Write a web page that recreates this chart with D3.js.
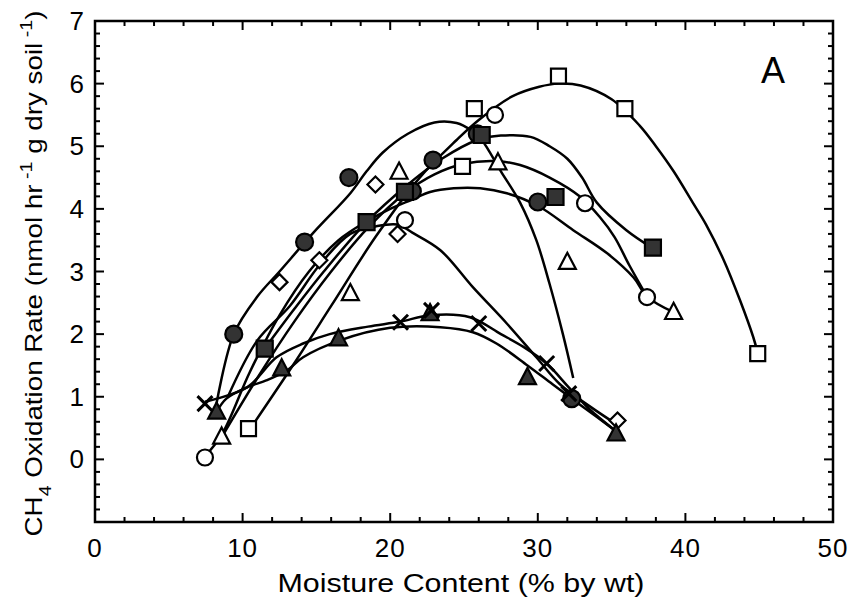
<!DOCTYPE html>
<html>
<head>
<meta charset="utf-8">
<script src="https://cdn.jsdelivr.net/npm/d3@7.9.0/dist/d3.min.js"></script>
<style>
  body { margin: 0; background: #fff; }
  svg { display: block; font-family: "Liberation Sans", Arial, Helvetica, sans-serif; }
</style>
</head>
<body>
<svg id="chart" width="850" height="602"></svg>
<script>
// measured points, one array per marker type
const filledCircle = [[9.4,2.0],[14.2,3.47],[17.2,4.5],[21.5,4.28],[22.9,4.78],[25.9,5.2],[30.0,4.11],[32.3,0.97]];
const openDiamond = [[12.5,2.83],[15.2,3.18],[19.0,4.39],[20.5,3.6],[35.4,0.62]];
const openTriangle = [[8.58,0.36],[17.3,2.65],[20.6,4.59],[27.3,4.74],[32.0,3.15],[39.2,2.35]];
const filledSquare = [[11.5,1.77],[18.4,3.79],[21.0,4.27],[26.2,5.18],[31.2,4.19],[37.8,3.38]];
const openSquare = [[10.4,0.49],[24.9,4.68],[25.7,5.6],[31.4,6.12],[35.9,5.6],[44.9,1.69]];
const openCircle = [[7.45,0.03],[21.0,3.82],[27.1,5.5],[33.2,4.09],[37.4,2.59]];
const crossX = [[7.45,0.89],[20.7,2.19],[22.8,2.38],[26.0,2.17],[30.6,1.53],[32.1,1.05]];
const filledTriangle = [[8.24,0.76],[12.65,1.45],[16.5,1.93],[22.7,2.33],[29.3,1.31],[35.3,0.41]];

// fitted curves
const fitTop = [[8.2,0.85],[9.4,2.0],[11,2.6],[12.5,3.0],[14.8,3.62],[17.3,4.25],[18.4,4.6],[19.5,4.9],[21.2,5.2],[23,5.38],[24.5,5.37],[25.5,5.25],[26.2,5.1],[27.5,4.6],[28.8,4.1],[29.9,3.5],[30.8,2.8],[31.7,2.0],[32.4,1.3]];
const fitOpenSquare = [[10.4,0.45],[13.4,1.5],[16,2.45],[19,3.55],[22,4.5],[24.5,5.1],[26,5.42],[28.3,5.8],[30.1,5.95],[31.4,6.0],[32.9,5.97],[35,5.75],[36.9,5.33],[38,5.0],[39.2,4.6],[40.5,4.1],[41.4,3.75],[42.6,3.18],[43.7,2.54],[44.6,1.95],[44.9,1.7]];
const fitPeakHigh = [[11.5,1.77],[13.5,2.4],[15.5,3.0],[18.4,3.79],[21,4.35],[23.5,4.8],[25.9,5.1],[27.5,5.17],[29.5,5.15],[30.8,5.0],[32,4.8],[33,4.5],[34,4.1],[36,3.66],[37.8,3.37]];
const fitPeakMid = [[8.6,0.36],[11,1.3],[13.5,2.2],[16,3.0],[18.5,3.7],[21,4.25],[23,4.55],[25,4.72],[27.3,4.76],[28.8,4.7],[30.8,4.5],[32.9,4.19],[34.2,3.87],[35.2,3.55],[36.2,3.1],[37.4,2.6]];
const fitPeakLow = [[7.45,0.05],[8.6,0.4],[10.5,1.4],[12.5,2.3],[14.5,3.0],[16.5,3.5],[18.4,3.8],[20,4.0],[21.5,4.15],[22.7,4.27],[24.3,4.33],[26.1,4.33],[27.9,4.25],[30,4.05],[32.4,3.66],[34.7,3.29],[36.5,2.9],[37.4,2.6],[39.2,2.35]];
const fitDiamond = [[9.0,1.0],[11,1.9],[13.2,2.45],[15.2,3.1],[17.3,3.6],[19,3.72],[20.5,3.75],[21.5,3.62],[23.4,3.34],[25.6,2.75],[27.9,2.17],[29.9,1.63],[31.5,1.2],[33.5,0.85],[35.4,0.55]];
const fitCross = [[7.45,0.92],[10.3,1.15],[12.3,1.63],[14.1,1.85],[15.9,2.0],[18.5,2.12],[20.7,2.2],[22.7,2.3],[25.4,2.27],[27.5,2.0],[29,1.8],[30.6,1.53],[32.1,1.15],[33.5,0.8],[35.3,0.45]];
const fitFilledTriangle = [[8.24,0.76],[8.9,0.97],[10.3,1.15],[11.6,1.26],[13,1.42],[14.1,1.63],[16.6,1.9],[20,2.1],[23.4,2.11],[25.6,2.03],[27.2,1.85],[29.3,1.5],[31,1.2],[33,0.85],[35.3,0.45]];

const xMajor = [0, 10, 20, 30, 40, 50];
const yMajor = [0, 1, 2, 3, 4, 5, 6, 7];

const svg = d3.select('#chart');
const margin = { top: 21, right: 17, bottom: 80, left: 95 };
const W = 850 - margin.left - margin.right;
const H = 602 - margin.top - margin.bottom;

const x = d3.scaleLinear().domain([0, 50]).range([0, W]);
const y = d3.scaleLinear().domain([-1, 7]).range([H, 0]);

const g = svg.append('g').attr('transform', `translate(${margin.left},${margin.top})`);

// inward ticks on all four sides
const xMinor = d3.range(0, 50.01, 2);
const yMinor = d3.range(-1, 7.001, 0.2).map(v => Math.round(v * 10) / 10);

function tickAxes() {
  const t = g.append('g').attr('stroke', '#000');
  xMinor.forEach(v => {
    const major = v % 10 === 0;
    const len = major ? 9 : 5;
    t.append('line').attr('x1', x(v)).attr('x2', x(v)).attr('y1', H).attr('y2', H - len).attr('stroke-width', 2);
    t.append('line').attr('x1', x(v)).attr('x2', x(v)).attr('y1', 0).attr('y2', len).attr('stroke-width', 2);
  });
  yMinor.forEach(v => {
    const major = Math.abs(v - Math.round(v)) < 1e-6;
    const len = major ? 9 : 5;
    t.append('line').attr('y1', y(v)).attr('y2', y(v)).attr('x1', 0).attr('x2', len).attr('stroke-width', 2);
    t.append('line').attr('y1', y(v)).attr('y2', y(v)).attr('x1', W).attr('x2', W - len).attr('stroke-width', 2);
  });
  g.append('rect').attr('width', W).attr('height', H)
    .attr('fill', 'none').attr('stroke', '#000').attr('stroke-width', 2.5);
}
tickAxes();

g.selectAll('.xl').data(xMajor).join('text')
  .attr('x', d => x(d)).attr('y', H + 35)
  .attr('text-anchor', 'middle').attr('font-size', 26)
  .attr('letter-spacing', 1).text(d => d);

g.selectAll('.yl').data(yMajor).join('text')
  .attr('x', -11).attr('y', d => y(d) + 9)
  .attr('text-anchor', 'end').attr('font-size', 26).text(d => d);

svg.append('text').attr('x', margin.left + W / 2 - 3).attr('y', 592)
  .attr('text-anchor', 'middle').attr('font-size', 25)
  .attr('textLength', 367).attr('lengthAdjust', 'spacingAndGlyphs')
  .text('Moisture  Content (% by wt)');

const yt = svg.append('text')
  .attr('transform', `translate(42,${margin.top + y(3) + 2}) rotate(-90)`)
  .attr('text-anchor', 'middle').attr('font-size', 24)
  .attr('textLength', 526).attr('lengthAdjust', 'spacingAndGlyphs');
yt.append('tspan').text('CH');
yt.append('tspan').attr('font-size', 17).attr('dy', 9).text('4');
yt.append('tspan').attr('dy', -9).text(' Oxidation Rate (nmol hr');
yt.append('tspan').attr('font-size', 17).attr('dy', -10).text(' -1');
yt.append('tspan').attr('dy', 10).text('  g dry soil');
yt.append('tspan').attr('font-size', 17).attr('dy', -10).text(' -1');
yt.append('tspan').attr('dy', 10).text(')');

svg.append('text').attr('x', 761).attr('y', 83)
  .attr('font-size', 36).text('A');

// curves
const line = d3.line().x(d => x(d[0])).y(d => y(d[1])).curve(d3.curveCatmullRom.alpha(0.5));
const fits = [fitTop, fitOpenSquare, fitPeakHigh, fitPeakMid, fitPeakLow, fitDiamond, fitCross, fitFilledTriangle];
g.append('g').selectAll('path').data(fits).join('path')
  .attr('d', line).attr('fill', 'none').attr('stroke', '#000')
  .attr('stroke-width', 2.5).attr('stroke-linejoin', 'round');

// markers
const shapes = {
  circle: r => d3.symbol(d3.symbolCircle, Math.PI * r * r)(),
  square: s => d3.symbol(d3.symbolSquare, s * s)(),
  triangle: s => `M0,${-s * 0.55}L${s / 2},${s * 0.4}L${-s / 2},${s * 0.4}Z`,
  diamond: s => `M0,${-s / 2}L${s / 2},0L0,${s / 2}L${-s / 2},0Z`,
  cross: s => `M${-s / 2},${-s / 2}L${s / 2},${s / 2}M${-s / 2},${s / 2}L${s / 2},${-s / 2}`
};

const markerSets = [
  { data: openSquare, path: shapes.square(15), fill: '#fff' },
  { data: openCircle, path: shapes.circle(8), fill: '#fff' },
  { data: openTriangle, path: shapes.triangle(17), fill: '#fff' },
  { data: openDiamond, path: shapes.diamond(16), fill: '#fff' },
  { data: filledCircle, path: shapes.circle(8.5), fill: '#333' },
  { data: filledSquare, path: shapes.square(16), fill: '#333' },
  { data: filledTriangle, path: shapes.triangle(17), fill: '#333' },
  { data: crossX, path: shapes.cross(15), fill: 'none' }
];

markerSets.forEach(m => {
  g.append('g').selectAll('path').data(m.data).join('path')
    .attr('transform', d => `translate(${x(d[0])},${y(d[1])})`)
    .attr('d', m.path).attr('fill', m.fill).attr('stroke', '#000')
    .attr('stroke-width', m.fill === 'none' ? 3 : 2.2);
});
</script>
</body>
</html>
